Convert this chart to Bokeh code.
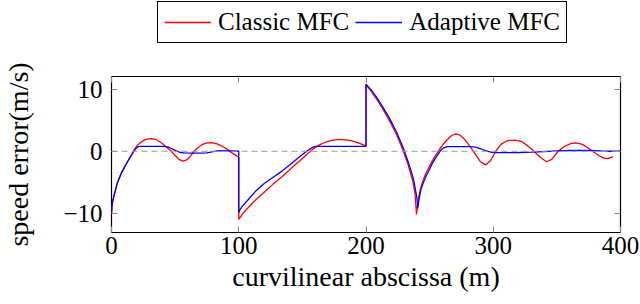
from bokeh.plotting import figure
from bokeh.models import Span, Legend, LegendItem, LinearAxis, FixedTicker
from bokeh.layouts import column
from bokeh.embed import file_html
from bokeh.resources import INLINE

# Adaptive MFC (blue)
blue_x = [0, 0.5, 1, 2, 3, 4.3, 6, 8, 9.6, 12, 14.8, 17, 19, 21, 23, 42, 45, 48, 51, 54, 57, 62, 68, 75, 79, 83, 88, 94, 100,
          100, 101, 103, 107, 113, 120, 127, 134, 140, 147, 152, 157, 160, 200,
          200, 204, 208, 213, 218.5, 224, 229, 233, 236.8, 238, 240, 240.7, 241.5, 243, 245, 247, 250, 252, 255, 258.7, 261, 264,
          282, 286, 290, 294, 298, 301, 310, 320, 330, 340, 350, 360, 370, 377, 385, 392, 400]
blue_y = [-10.0, -8.6, -8.0, -7.1, -6.4, -5.3, -4.4, -3.4, -2.8, -1.9, -0.9, -0.2, 0.4, 0.75, 0.8, 0.8, 0.65, 0.35, 0.05, -0.2, -0.27, -0.3, -0.3, -0.25, -0.1, 0.05, 0.1, 0.05, 0.0,
          -9.9, -9.4, -8.8, -7.9, -6.5, -5.2, -4.2, -3.2, -2.2, -1.0, -0.2, 0.5, 0.8, 0.8,
          10.8, 9.9, 8.8, 7.2, 5.3, 3.1, 0.7, -1.6, -4.1, -5.2, -7.5, -9.2, -8.0, -6.3, -5.1, -4.1, -2.9, -2.0, -1.0, 0.15, 0.55, 0.75,
          0.75, 0.65, 0.4, 0.1, -0.15, -0.2, -0.22, -0.2, -0.15, -0.05, 0.05, 0.12, 0.15, 0.12, 0.05, 0.0, 0.0]

# Classic MFC (red)
red_x = [0, 0.5, 1, 2, 3, 4.3, 6, 8, 9.6, 12, 14.8, 17, 19, 21, 24, 27, 31, 35, 39, 43, 47, 50, 53, 56, 59, 62, 65, 68, 71, 75, 79, 83, 87, 91, 95, 98, 100,
         100, 101, 103, 107, 113, 120, 127, 134, 140, 147, 153, 158, 163, 168, 174, 180, 186, 191, 196, 200,
         200, 204, 208, 213, 218.5, 224, 229, 233, 236.8, 238.5, 239.7, 240.5, 241.5, 243, 245, 247, 250, 252, 255, 258, 261, 264, 267, 270.6, 274, 278,
         282, 286, 290, 294, 298, 302, 306, 311, 317, 322, 327, 332, 337, 342, 346, 351, 356, 361, 365, 370, 374, 378, 383, 387, 390, 394]
red_y = [-10.0, -8.6, -8.0, -7.1, -6.4, -5.3, -4.4, -3.4, -2.8, -1.9, -0.9, -0.1, 0.6, 1.1, 1.6, 1.9, 2.05, 1.9, 1.4, 0.7, 0.0, -0.7, -1.3, -1.6, -1.4, -0.8, 0.0, 0.6, 1.05, 1.35, 1.4, 1.2, 0.8, 0.3, -0.3, -0.7, -1.0,
         -11.0, -10.7, -10.1, -9.2, -7.9, -6.6, -5.3, -4.1, -3.0, -1.7, -0.6, 0.3, 1.0, 1.45, 1.8, 1.9, 1.8, 1.55, 1.2, 0.85,
         10.7, 9.7, 8.5, 6.9, 4.9, 2.7, 0.2, -2.1, -4.8, -6.8, -10.2, -8.6, -7.3, -5.9, -4.6, -3.6, -2.4, -1.6, -0.6, 0.4, 1.2, 1.9, 2.5, 2.8, 2.6, 1.8,
         0.7, -0.5, -1.7, -2.2, -1.5, 0.0, 1.1, 1.7, 1.8, 1.6, 0.9, 0.0, -1.0, -1.7, -1.3, 0.0, 0.8, 1.25, 1.35, 1.1, 0.6, 0.0, -0.7, -1.1, -1.2, -0.9]

x_ticks = [0, 100, 200, 300, 400]
y_ticks = [-10, 0, 10]
series_labels = ["Classic MFC", "Adaptive MFC"]
series_colors = ["#ff0000", "#0000ff"]

FONT = "Liberation Serif"
FS = "25px"
LFS = "28px"

p = figure(width=640, height=258, x_range=(0, 400), y_range=(-13.1, 12.05),
           output_backend="svg", toolbar_location=None,
           min_border_left=109, min_border_right=20, min_border_top=30, min_border_bottom=72)
p.xgrid.visible = False
p.ygrid.visible = False
p.outline_line_color = "black"
p.outline_line_width = 1.2
p.background_fill_color = "white"
p.border_fill_color = "white"

p.add_layout(Span(location=0, dimension="width", line_color="#999999", line_width=1.2, line_dash="6 4"))

r_red = p.line(red_x, red_y, line_color=series_colors[0], line_width=1.3)
r_blue = p.line(blue_x, blue_y, line_color=series_colors[1], line_width=1.3)

for ax in (p.xaxis[0], p.yaxis[0]):
    ax.axis_line_color = None
    ax.major_tick_in = 6
    ax.major_tick_out = 0
    ax.minor_tick_line_color = None
    ax.major_tick_line_color = "#888888"
    ax.major_label_text_font = FONT
    ax.major_label_text_font_size = FS
    ax.major_label_text_color = "black"
    ax.axis_label_text_font = FONT
    ax.axis_label_text_font_size = LFS
    ax.axis_label_text_font_style = "normal"
    ax.axis_label_text_color = "black"

p.xaxis.ticker = FixedTicker(ticks=x_ticks)
p.yaxis.ticker = FixedTicker(ticks=y_ticks)
p.xaxis.axis_label = "curvilinear abscissa (m)"
p.yaxis.axis_label = "speed error(m/s)"
p.xaxis.major_label_standoff = 4
p.xaxis.axis_label_standoff = 4
p.yaxis.major_label_standoff = 9
p.yaxis.axis_label_standoff = 26
p.yaxis.major_label_overrides = {-10: "\u221210"}

for side, ticks in (("above", x_ticks), ("right", y_ticks)):
    ax = LinearAxis(ticker=FixedTicker(ticks=ticks), axis_line_color=None,
                    major_tick_in=6, major_tick_out=0, minor_tick_line_color=None,
                    major_tick_line_color="#888888", major_label_text_font_size="1px",
                    major_label_standoff=0, major_label_text_color=None)
    p.add_layout(ax, side)

# legend strip above the plot (its own renderers lie outside its visible range)
lf = figure(width=640, height=46, output_backend="svg", toolbar_location=None,
            x_axis_type=None, y_axis_type=None, x_range=(0, 400), y_range=(1000, 1001),
            min_border_left=0, min_border_right=0, min_border_top=0, min_border_bottom=0)
lf.outline_line_color = None
lf.xgrid.visible = False
lf.ygrid.visible = False
lr = [lf.line(red_x, red_y, line_color=series_colors[0], line_width=1.3),
      lf.line(blue_x, blue_y, line_color=series_colors[1], line_width=1.3)]

legend = Legend(items=[LegendItem(label=series_labels[i], renderers=[lr[i]]) for i in range(2)],
                orientation="horizontal", location=(46, 3),
                label_text_font=FONT, label_text_font_size=FS, label_text_color="black",
                glyph_width=47, glyph_height=22, label_standoff=7, spacing=6,
                padding=6, margin=0, border_line_color="black", border_line_width=1.2,
                border_line_alpha=1.0, background_fill_alpha=1.0)
lf.add_layout(legend, "center")

layout = column(lf, p, spacing=0)
open("out.html", "w").write(file_html(layout, INLINE))
